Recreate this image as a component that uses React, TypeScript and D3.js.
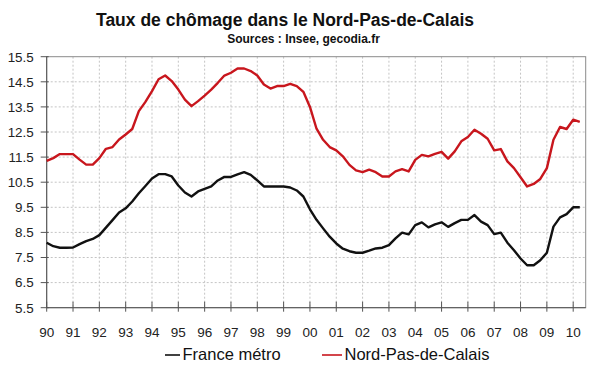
import React, { useRef, useEffect } from 'react';
import * as d3 from 'd3';

// quarterly series, 1990 Q1 -> 2010 Q2
const franceMetro = [
  8.09, 7.95, 7.89, 7.89, 7.9, 8.03, 8.15, 8.24, 8.39, 8.69,
  8.99, 9.29, 9.46, 9.73, 10.06, 10.35, 10.65, 10.82, 10.82, 10.73,
  10.37, 10.09, 9.93, 10.13, 10.23, 10.33, 10.57, 10.71, 10.71, 10.81,
  10.9, 10.79, 10.57, 10.33, 10.33, 10.33, 10.33, 10.29, 10.17, 9.93,
  9.42, 9.0, 8.66, 8.33, 8.06, 7.85, 7.75, 7.69, 7.69, 7.77,
  7.86, 7.89, 7.99, 8.26, 8.49, 8.42, 8.79, 8.9, 8.7, 8.82,
  8.9, 8.72, 8.87, 9.0, 9.0, 9.19, 8.93, 8.79, 8.43, 8.49,
  8.09, 7.79, 7.46, 7.19, 7.19, 7.39, 7.69, 8.73, 9.1, 9.23,
  9.5, 9.5,
];

const nordPasDeCalais = [
  11.35, 11.46, 11.62, 11.62, 11.62, 11.4, 11.2, 11.2, 11.46, 11.83,
  11.9, 12.2, 12.4, 12.62, 13.33, 13.7, 14.13, 14.6, 14.75, 14.53,
  14.19, 13.79, 13.53, 13.73, 13.95, 14.19, 14.46, 14.75, 14.86, 15.03,
  15.03, 14.93, 14.75, 14.39, 14.23, 14.33, 14.33, 14.42, 14.33, 14.1,
  13.5, 12.63, 12.19, 11.9, 11.77, 11.53, 11.19, 10.97, 10.9, 11.0,
  10.9, 10.73, 10.73, 10.93, 11.02, 10.93, 11.39, 11.59, 11.53, 11.63,
  11.71, 11.44, 11.73, 12.13, 12.3, 12.59, 12.43, 12.23, 11.77, 11.82,
  11.33, 11.06, 10.7, 10.33, 10.43, 10.63, 11.06, 12.19, 12.7, 12.62,
  12.99, 12.9,
];

const yearLabels = ['90', '91', '92', '93', '94', '95', '96', '97', '98', '99',
  '00', '01', '02', '03', '04', '05', '06', '07', '08', '09', '10'];

const yTicks = [5.5, 6.5, 7.5, 8.5, 9.5, 10.5, 11.5, 12.5, 13.5, 14.5, 15.5];

const seriesNames = ['France métro', 'Nord-Pas-de-Calais'];
const seriesColors = ['#111111', '#c8161d'];

const W = 600;
const H = 372;
const FONT = '"Liberation Sans", Arial, sans-serif';

const App = () => {
  const svgRef = useRef<SVGSVGElement>(null);

  useEffect(() => {
    const svg = d3.select(svgRef.current);
    svg.selectAll('*').remove();

    const left = 46.7, right = 585.7, top = 56.7, bottom = 307.7;

    const x = d3.scaleLinear().domain([0, 81.9]).range([left, right]);
    const y = d3.scaleLinear().domain([5.5, 15.5]).range([bottom, top]);

    svg.append('rect').attr('width', W).attr('height', H).attr('fill', '#fff');

    // title
    svg.append('text')
      .attr('x', 285).attr('y', 26)
      .attr('text-anchor', 'middle')
      .attr('font-family', FONT).attr('font-weight', 'bold')
      .attr('font-size', 17.5).attr('fill', '#111')
      .text('Taux de chômage dans le Nord-Pas-de-Calais');

    svg.append('text')
      .attr('x', 303.5).attr('y', 43)
      .attr('text-anchor', 'middle')
      .attr('font-family', FONT).attr('font-weight', 'bold')
      .attr('font-size', 12).attr('fill', '#111')
      .text('Sources : Insee, gecodia.fr');

    // grid
    const grid = svg.append('g')
      .attr('stroke', '#c4c4c4').attr('stroke-width', 1)
      .attr('stroke-dasharray', '2,2');
    yTicks.slice(1, -1).forEach(t => {
      grid.append('line')
        .attr('x1', left).attr('x2', right)
        .attr('y1', y(t)).attr('y2', y(t));
    });
    yearLabels.forEach((_, i) => {
      if (i === 0) return;
      grid.append('line')
        .attr('x1', x(i * 4)).attr('x2', x(i * 4))
        .attr('y1', top).attr('y2', bottom);
    });

    // plot frame
    svg.append('rect')
      .attr('x', left).attr('y', top)
      .attr('width', right - left).attr('height', bottom - top)
      .attr('fill', 'none').attr('stroke', '#8a8a8a').attr('stroke-width', 1);

    // y axis
    const yAxis = svg.append('g').attr('transform', `translate(${left},0)`);
    yAxis.append('line').attr('y1', top).attr('y2', bottom).attr('stroke', '#555');
    yTicks.forEach(t => {
      yAxis.append('line')
        .attr('x1', -6).attr('x2', 2)
        .attr('y1', y(t)).attr('y2', y(t))
        .attr('stroke', '#555');
      yAxis.append('text')
        .attr('x', -13).attr('y', y(t)).attr('dy', '0.36em')
        .attr('text-anchor', 'end')
        .attr('font-family', FONT).attr('font-size', 13.4).attr('fill', '#222')
        .text(t.toFixed(1));
    });

    // x axis
    const xAxis = svg.append('g').attr('transform', `translate(0,${bottom})`);
    xAxis.append('line').attr('x1', left).attr('x2', right).attr('stroke', '#555');
    yearLabels.forEach((lab, i) => {
      const px = x(i * 4);
      xAxis.append('line')
        .attr('x1', px).attr('x2', px)
        .attr('y1', -6).attr('y2', 4)
        .attr('stroke', '#555');
      xAxis.append('text')
        .attr('x', px).attr('y', 29)
        .attr('text-anchor', 'middle')
        .attr('font-family', FONT).attr('font-size', 13.5).attr('fill', '#222')
        .text(lab);
    });

    // lines
    const line = d3.line<number>()
      .x((_, i) => x(i))
      .y(d => y(d));

    [franceMetro, nordPasDeCalais].forEach((s, k) => {
      svg.append('path')
        .datum(s)
        .attr('fill', 'none')
        .attr('stroke', seriesColors[k])
        .attr('stroke-width', 2.4)
        .attr('stroke-linejoin', 'round')
        .attr('d', line);
    });

    // legend
    const legendX = [165, 322];
    const legendLen = [15, 20];
    seriesNames.forEach((name, k) => {
      const g = svg.append('g');
      g.append('line')
        .attr('x1', legendX[k]).attr('x2', legendX[k] + legendLen[k])
        .attr('y1', 355).attr('y2', 355)
        .attr('stroke', seriesColors[k]).attr('stroke-width', 1.6);
      g.append('text')
        .attr('x', legendX[k] + legendLen[k] + 2.5).attr('y', 359.5)
        .attr('font-family', FONT).attr('font-size', 16.5).attr('fill', '#111')
        .text(name);
    });
  }, []);

  return (
    <svg
      ref={svgRef}
      width={W}
      height={H}
      style={{ position: 'absolute', left: 0, top: 0, display: 'block' }}
    />
  );
};

export default App;
